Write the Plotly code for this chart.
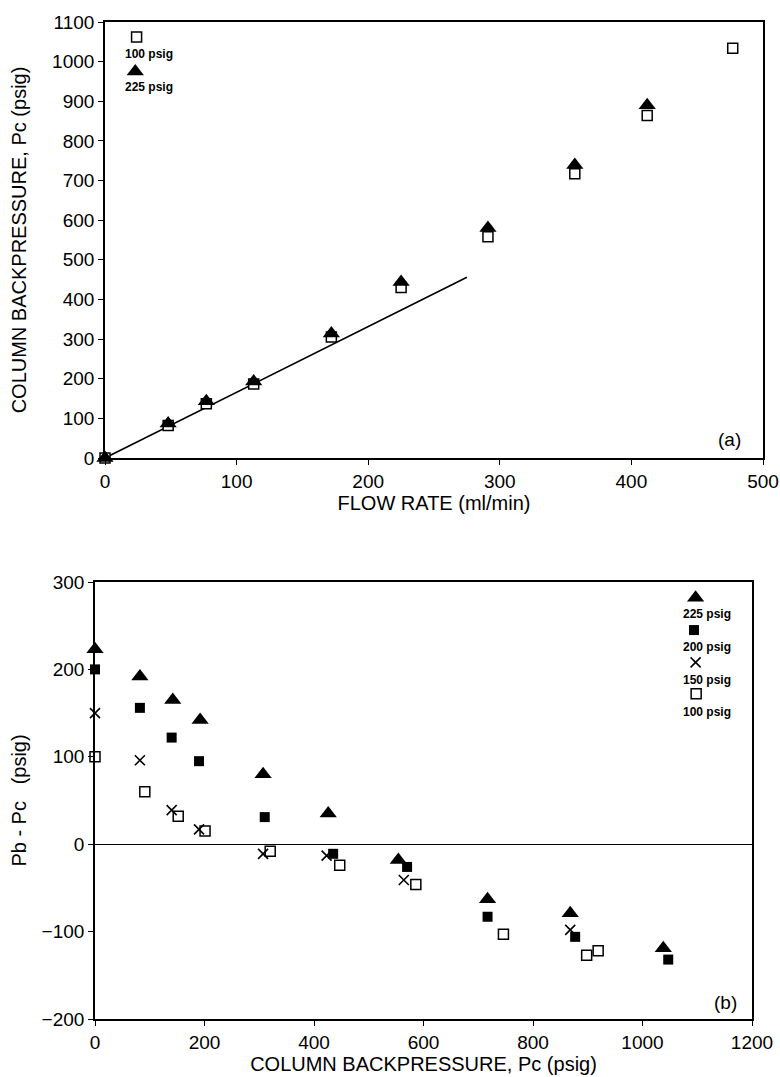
import plotly.graph_objects as go

# ---- (a) column backpressure vs. flow rate ----
flow_rate = [0, 48, 77, 113, 172, 225, 291, 357, 412, 477]
pc_225 = [0, 87, 143, 193, 314, 444, 580, 739, 890, None]
pc_100 = [0, 82, 137, 187, 305, 430, 558, 717, 864, 1034]

# straight-line fit through the low-flow region
fit_flow = [0, 275]
fit_pc = [0, 456]

# ---- (b) Pb - Pc vs. column backpressure ----
pc_b225 = [0, 82, 142, 192, 307, 426, 554, 717, 868, 1038]
dp_225 = [223, 192, 165, 142, 80, 35, -18, -63, -79, -119]
pc_b200 = [0, 82, 140, 190, 310, 435, 570, 717, 877, 1047]
dp_200 = [200, 156, 122, 95, 31, -11, -26, -83, -106, -132]
pc_b150 = [0, 82, 140, 190, 307, 423, 564, 868]
dp_150 = [150, 96, 39, 17, -11, -13, -41, -98]
pc_b100 = [0, 91, 152, 201, 320, 447, 586, 746, 898, 919]
dp_100 = [100, 60, 32, 15, -8, -24, -46, -103, -127, -122]

W, H = 780, 1077
FONT = "Liberation Sans, Arial, Helvetica, sans-serif"


def px_x(p):
    return p / W


def px_y(p):
    return 1 - p / H


TRI = dict(symbol="triangle-up", size=15, color="black")
SQ_OPEN = dict(symbol="square", size=10, color="white", line=dict(color="black", width=1.5))
SQ_FILL = dict(symbol="square", size=10, color="black", line=dict(color="black", width=0))
XMARK = dict(symbol="x-thin", size=10, line=dict(color="black", width=1.6))

fig = go.Figure()

# panel (a)
fig.add_trace(go.Scatter(x=fit_flow, y=fit_pc, mode="lines",
                         line=dict(color="black", width=1.6),
                         xaxis="x", yaxis="y", showlegend=False))
fig.add_trace(go.Scatter(x=flow_rate, y=pc_100, mode="markers", marker=SQ_OPEN,
                         xaxis="x", yaxis="y", name="100 psig", showlegend=False,
                         cliponaxis=False))
fig.add_trace(go.Scatter(x=flow_rate, y=pc_225, mode="markers", marker=TRI,
                         xaxis="x", yaxis="y", name="225 psig", showlegend=False,
                         cliponaxis=False))

# panel (b)
fig.add_trace(go.Scatter(x=pc_b100, y=dp_100, mode="markers", marker=SQ_OPEN,
                         xaxis="x2", yaxis="y2", name="100 psig", showlegend=False,
                         cliponaxis=False))
fig.add_trace(go.Scatter(x=pc_b150, y=dp_150, mode="markers", marker=XMARK,
                         xaxis="x2", yaxis="y2", name="150 psig", showlegend=False,
                         cliponaxis=False))
fig.add_trace(go.Scatter(x=pc_b200, y=dp_200, mode="markers", marker=SQ_FILL,
                         xaxis="x2", yaxis="y2", name="200 psig", showlegend=False,
                         cliponaxis=False))
fig.add_trace(go.Scatter(x=pc_b225, y=dp_225, mode="markers", marker=TRI,
                         xaxis="x2", yaxis="y2", name="225 psig", showlegend=False,
                         cliponaxis=False))

# key glyphs (symbol above its label), placed in each panel's upper corner
key_a = [(24, 1062, SQ_OPEN), (23, 975, TRI)]
for kx, ky, mk in key_a:
    fig.add_trace(go.Scatter(x=[kx], y=[ky], mode="markers", marker=mk,
                             xaxis="x", yaxis="y", showlegend=False, hoverinfo="skip"))
key_b = [(1097, 282, TRI), (1094, 245, SQ_FILL), (1097, 208, XMARK), (1098, 172, SQ_OPEN)]
for kx, ky, mk in key_b:
    fig.add_trace(go.Scatter(x=[kx], y=[ky], mode="markers", marker=mk,
                             xaxis="x2", yaxis="y2", showlegend=False, hoverinfo="skip",
                             cliponaxis=False))

key_font = dict(family=FONT, size=12, color="black")
annotations = []
for txt, x, y in [("100 psig", 149, 54), ("225 psig", 149, 87),
                  ("225 psig", 707, 614), ("200 psig", 707, 647),
                  ("150 psig", 707, 680), ("100 psig", 707, 712)]:
    annotations.append(dict(text="<b>" + txt + "</b>", x=px_x(x), y=px_y(y),
                            xref="paper", yref="paper", showarrow=False,
                            font=key_font, xanchor="center", yanchor="middle"))
annotations.append(dict(text="(a)", x=px_x(729), y=px_y(439), xref="paper", yref="paper",
                        showarrow=False, font=dict(family=FONT, size=19, color="black"),
                        xanchor="center", yanchor="middle"))
annotations.append(dict(text="(b)", x=px_x(725), y=px_y(1002), xref="paper", yref="paper",
                        showarrow=False, font=dict(family=FONT, size=19, color="black"),
                        xanchor="center", yanchor="middle"))

axis_common = dict(showline=True, linecolor="black", linewidth=1.6, mirror=True,
                   ticks="outside", ticklen=5, tickwidth=1.2, tickcolor="black",
                   showgrid=False, zeroline=False,
                   tickfont=dict(family=FONT, size=19, color="black"),
                   automargin=False)
title_font = dict(family=FONT, size=20, color="black")

fig.update_layout(
    width=W, height=H,
    margin=dict(l=0, r=0, t=0, b=0),
    paper_bgcolor="white", plot_bgcolor="white",
    showlegend=False,
    annotations=annotations,
    xaxis=dict(axis_common, domain=[px_x(105), px_x(763)], anchor="y",
               range=[0, 500], tickvals=[0, 100, 200, 300, 400, 500],
               title=dict(text="FLOW RATE (ml/min)", font=title_font, standoff=4)),
    yaxis=dict(axis_common, domain=[px_y(458), px_y(22)], anchor="x",
               range=[0, 1100], dtick=100,
               title=dict(text="COLUMN BACKPRESSURE, Pc (psig)", font=title_font, standoff=20)),
    xaxis2=dict(axis_common, domain=[px_x(95), px_x(752)], anchor="y2",
                range=[0, 1200], dtick=200,
                title=dict(text="COLUMN BACKPRESSURE, Pc (psig)", font=title_font, standoff=4)),
    yaxis2=dict(axis_common, domain=[px_y(1019), px_y(582)], anchor="x2",
                range=[-200, 300], dtick=100,
                zeroline=True, zerolinecolor="black", zerolinewidth=1.4,
                title=dict(text="Pb - Pc   (psig)", font=title_font, standoff=10)),
)

fig.write_html("out.html")
